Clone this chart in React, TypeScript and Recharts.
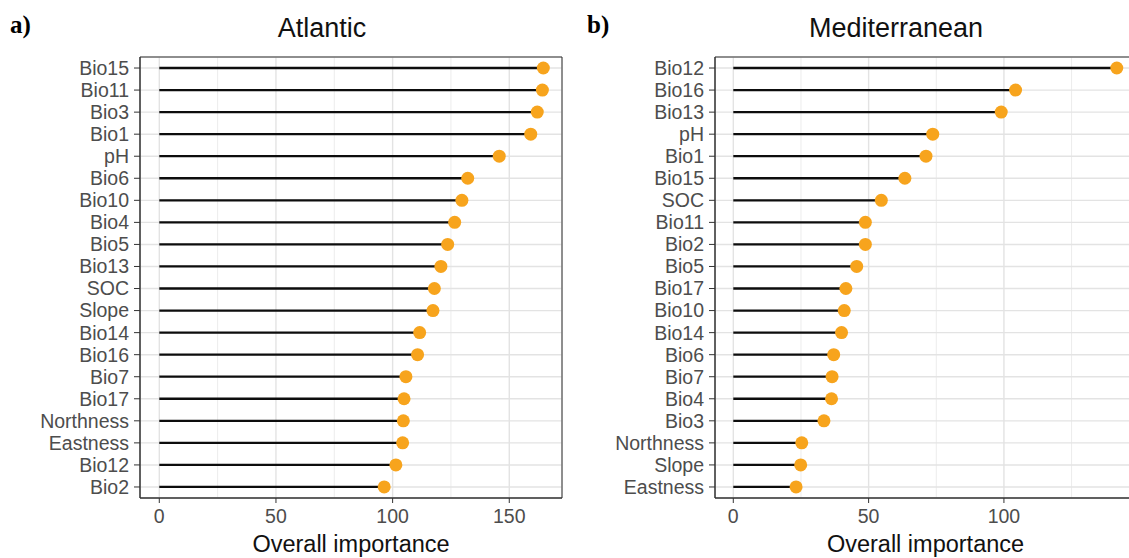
import React from 'react';
import {
  ComposedChart,
  Bar,
  XAxis,
  YAxis,
  CartesianGrid,
  ReferenceArea,
} from 'recharts';

const atlanticCategories = [
  'Bio15', 'Bio11', 'Bio3', 'Bio1', 'pH', 'Bio6', 'Bio10', 'Bio4', 'Bio5', 'Bio13',
  'SOC', 'Slope', 'Bio14', 'Bio16', 'Bio7', 'Bio17', 'Northness', 'Eastness', 'Bio12', 'Bio2',
];
const atlanticValues = [
  164.6, 164.2, 162.0, 159.2, 145.7, 132.2, 129.7, 126.6, 123.6, 120.7,
  117.9, 117.3, 111.6, 110.7, 105.7, 104.9, 104.6, 104.3, 101.4, 96.4,
];

const medCategories = [
  'Bio12', 'Bio16', 'Bio13', 'pH', 'Bio1', 'Bio15', 'SOC', 'Bio11', 'Bio2', 'Bio5',
  'Bio17', 'Bio10', 'Bio14', 'Bio6', 'Bio7', 'Bio4', 'Bio3', 'Northness', 'Slope', 'Eastness',
];
const medValues = [
  141.7, 104.3, 99.0, 73.7, 71.2, 63.4, 54.7, 48.8, 48.8, 45.6,
  41.6, 41.0, 40.0, 37.1, 36.5, 36.3, 33.5, 25.3, 24.9, 23.2,
];

const atlanticTicks = [0, 50, 100, 150];
const atlanticMinor = [25, 75, 125];
const medTicks = [0, 50, 100];
const medMinor = [25, 75, 125];

const FONT = '"Liberation Sans", Arial, sans-serif';
const DOT = '#F7A41D';

const Lollipop = (props: any) => {
  const { x, y, width, height } = props;
  const cy = y + height / 2;
  return (
    <g>
      <line x1={x} x2={x + width} y1={cy} y2={cy} stroke="#0d0d0d" strokeWidth={2.3} />
      <circle cx={x + width} cy={cy} r={6.5} fill={DOT} />
    </g>
  );
};

type PanelProps = {
  categories: string[];
  values: number[];
  ticks: number[];
  minor: number[];
  domain: [number, number];
  width: number;
  yAxisWidth: number;
  rightMargin: number;
};

const Panel = ({ categories, values, ticks, minor, domain, width, yAxisWidth, rightMargin }: PanelProps) => {
  const data = categories.map((name, i) => ({ name, value: values[i] }));
  return (
    <ComposedChart
      width={width}
      height={558}
      data={data}
      layout="vertical"
      margin={{ top: 57, right: rightMargin, bottom: 0, left: 0 }}
      barCategoryGap={0}
    >
      <CartesianGrid
        horizontal={false}
        vertical={true}
        verticalValues={minor}
        stroke="#ececec"
        strokeWidth={1}
      />
      <CartesianGrid stroke="#e3e3e3" strokeWidth={1.4} />
      <XAxis
        type="number"
        domain={domain}
        allowDataOverflow
        ticks={ticks}
        height={60}
        tickSize={5}
        tickMargin={6}
        axisLine={{ stroke: '#333333' }}
        tickLine={{ stroke: '#333333' }}
        tick={{ fill: '#4d4d4d', fontSize: 19.5, fontFamily: FONT }}
        label={{
          value: 'Overall importance',
          position: 'insideBottom',
          offset: 6,
          fill: '#111111',
          fontSize: 23.5,
          fontFamily: FONT,
        }}
      />
      <YAxis
        type="category"
        dataKey="name"
        width={yAxisWidth}
        tickSize={6}
        tickMargin={5}
        interval={0}
        axisLine={{ stroke: '#333333' }}
        tickLine={{ stroke: '#333333' }}
        tick={{ fill: '#4d4d4d', fontSize: 19.5, fontFamily: FONT }}
      />
      <Bar dataKey="value" shape={<Lollipop />} isAnimationActive={false} />
      <ReferenceArea
        x1={domain[0]}
        x2={domain[1]}
        fill="none"
        fillOpacity={0}
        stroke="#333333"
        strokeWidth={1}
        ifOverflow="visible"
      />
    </ComposedChart>
  );
};

export default function App() {
  return (
    <div
      style={{
        position: 'absolute',
        left: 0,
        top: 0,
        width: 1129,
        height: 558,
        overflow: 'hidden',
        background: '#ffffff',
      }}
    >
      <div style={{ position: 'absolute', left: 0, top: 0 }}>
        <Panel
          categories={atlanticCategories}
          values={atlanticValues}
          ticks={atlanticTicks}
          minor={atlanticMinor}
          domain={[-8.27, 172.6]}
          width={570}
          yAxisWidth={140}
          rightMargin={8}
        />
      </div>
      <div style={{ position: 'absolute', left: 570, top: 0 }}>
        <Panel
          categories={medCategories}
          values={medValues}
          ticks={medTicks}
          minor={medMinor}
          domain={[-6.76, 148.8]}
          width={566}
          yAxisWidth={145}
          rightMargin={0}
        />
      </div>
      <svg
        width={1129}
        height={558}
        style={{ position: 'absolute', left: 0, top: 0, pointerEvents: 'none' }}
      >
        <text x={10} y={33} fontFamily='"Liberation Serif", "Times New Roman", serif' fontWeight="bold" fontSize={25} fill="#000">
          a)
        </text>
        <text x={587} y={33} fontFamily='"Liberation Serif", "Times New Roman", serif' fontWeight="bold" fontSize={25} fill="#000">
          b)
        </text>
        <text x={322} y={37} textAnchor="middle" fontFamily={FONT} fontSize={27} fill="#111">
          Atlantic
        </text>
        <text x={896} y={37} textAnchor="middle" fontFamily={FONT} fontSize={27} fill="#111">
          Mediterranean
        </text>
      </svg>
    </div>
  );
}
